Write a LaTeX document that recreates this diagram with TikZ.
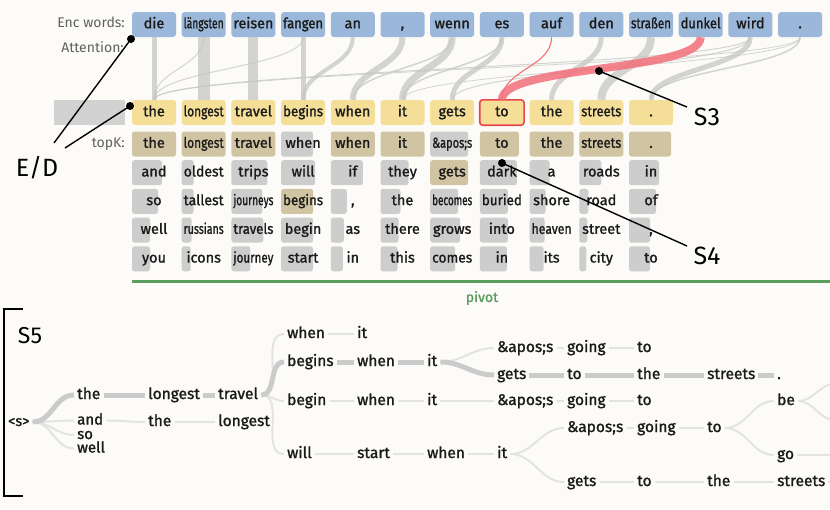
\documentclass[tikz,border=0pt]{standalone}
\usepackage{fontspec}
\setmainfont{Fira Sans}
\newfontfamily\semib{Fira Sans}[FakeBold=1.3]
\usepackage{graphicx}
\usetikzlibrary{calc}
\definecolor{bgc}{HTML}{FCFBF8}
\definecolor{encblue}{HTML}{9BB8DB}
\definecolor{decyel}{HTML}{F5DE98}
\definecolor{tanc}{HTML}{D0C4A2}
\definecolor{gr}{HTML}{CDCDCD}
\definecolor{attgray}{HTML}{C6C6C2}
\definecolor{redatt}{HTML}{F2707B}
\definecolor{redbox}{HTML}{E8454F}
\definecolor{pivotgreen}{HTML}{5A9E5E}
\definecolor{thkc}{HTML}{CBCBCB}
\definecolor{thnc}{HTML}{E3E3E3}
\definecolor{lblgray}{HTML}{606060}
\definecolor{txt}{HTML}{1A1A1A}
\newsavebox\wbox
\newcommand\fitw[1]{\sbox\wbox{#1}\ifdim\wd\wbox>40pt\relax\resizebox{40pt}{\height}{\usebox\wbox}\else\usebox\wbox\fi}
\newcommand\lnk[3]{\draw[#1] ([xshift=3pt,yshift=4pt]#2.base east) to[out=0,in=180] ([xshift=-3pt,yshift=4pt]#3.base west);}
\newcommand\att[3]{\draw[attline, line width=#3pt] (e#1.south) .. controls ([yshift=-30pt]e#1.south) and ([yshift=30pt]d#2.north) .. (d#2.north);}
\newcommand\tkcol[2]{\foreach \w/\b/\c [count=\r from 0] in {#2} {%
  \fill[\c, rounded corners=2.5pt] ({132+49.7*#1},{131.5+28.7*\r}) rectangle ++(\b,25);
  \node[tkt] (k#1-\r) at ({154+49.7*#1},{144+28.7*\r}) {\fitw{\w}};}}
\begin{document}
\begin{tikzpicture}[x=1pt,y=-1pt,
  every node/.style={inner sep=0pt, text=txt, font=\semib\fontsize{14.5}{17}\selectfont},
  cell/.style={minimum width=44pt, minimum height=25pt, rounded corners=3pt, text height=10.5pt, text depth=3pt},
  enc/.style={cell, fill=encblue},
  dec/.style={cell, fill=decyel},
  tkt/.style={text height=10.5pt, text depth=3pt},
  lbl/.style={anchor=east, text=lblgray, font=\rmfamily\fontsize{14}{16}\selectfont},
  attline/.style={draw=attgray, opacity=0.75},
  big/.style={font=\rmfamily\fontsize{25}{28}\selectfont, text=black},
  annot/.style={draw=black, line width=1.4pt},
  tw/.style={anchor=base west, font=\semib\fontsize{15.5}{18}\selectfont},
  thk/.style={draw=thkc, line width=5pt},
  thn/.style={draw=thnc, line width=2pt}
]
\fill[bgc] (0,0) rectangle (830,509);
\useasboundingbox (0,0) rectangle (830,509);
\clip (0,0) rectangle (830,509);

% labels
\node[lbl] (lenc) at (125,22) {Enc words:};
\node[lbl] (latt) at (124,47) {Attention:};
\node[lbl] (ltk) at (125,144) {topK:};

% encoder words
\foreach \w [count=\i from 0] in {die,längsten,reisen,fangen,an,{,},wenn,es,auf,den,straßen,dunkel,wird,.}
  {\node[enc] (e\i) at ({154+49.7*\i},24.5) {\fitw{\w}};}
% decoder words
\fill[gr!90] (54,100) rectangle (125,125);
\foreach \w [count=\i from 0] in {the,longest,travel,begins,when,it,gets,to,the,streets,.}
  {\node[dec] (d\i) at ({154+49.7*\i},112.5) {\fitw{\w}};}
\draw[redbox, line width=1.6pt, rounded corners=3pt] (d7.south west) rectangle (d7.north east);

% attention
\att{0}{0}{5}
\att{1}{1}{12}
\att{2}{2}{10}
\att{3}{3}{5}
\att{1}{0}{1}
\att{3}{0}{1}
\att{12}{0}{1}
\att{13}{0}{0.8}
\att{4}{3}{4}
\att{5}{4}{6}
\att{6}{4}{1.5}
\att{6}{5}{7}
\att{7}{5}{1.5}
\att{7}{6}{5}
\att{9}{8}{5}
\att{10}{9}{8}
\att{12}{10}{5}
\att{13}{10}{1.5}
\att{12}{6}{1}
\att{13}{5}{0.8}
\draw[redatt, line width=1.1pt] (e8.south) .. controls ([yshift=-30pt]e8.south) and ([yshift=30pt]d7.north) .. (d7.north);
\draw[redatt, opacity=0.85, line width=8pt] (e11.south) .. controls ([yshift=-35pt]e11.south) and ([yshift=35pt]d7.north) .. (d7.north);

% topK
\tkcol{0}{the/44/tanc, and/30/gr, so/26/gr, well/18/gr, you/18/gr}
\tkcol{1}{longest/44/tanc, oldest/12/gr, tallest/12/gr, russians/10/gr, icons/9/gr}
\tkcol{2}{travel/44/tanc, trips/36/gr, journeys/31/gr, travels/32/gr, journey/19/gr}
\tkcol{3}{when/32/gr, will/34/gr, begins/32/tanc, begin/32/gr, start/32/gr}
\tkcol{4}{when/44/tanc, if/32/gr, {,}/16/gr, as/13/gr, in/12/gr}
\tkcol{5}{it/44/tanc, they/28/gr, the/20/gr, there/18/gr, this/17/gr}
\tkcol{6}{\&apos;s/38/gr, gets/38/tanc, becomes/28/gr, grows/30/gr, comes/25/gr}
\tkcol{7}{to/39/tanc, dark/37/gr, buried/28/gr, into/28/gr, in/27/gr}
\tkcol{8}{the/44/tanc, a/20/gr, shore/16/gr, heaven/15/gr, its/14/gr}
\tkcol{9}{streets/44/tanc, roads/22/gr, road/9/gr, street/8/gr, city/7/gr}
\tkcol{10}{./42/tanc, in/30/gr, of/27/gr, {,}/21/gr, to/21/gr}

% pivot
\draw[pivotgreen, line width=3pt] (132,281) -- (830,281);
\node[text=pivotgreen, font=\semib\fontsize{14}{16}\selectfont] (pivot) at (482,298) {pivot};

% annotations
\coordinate (edA) at (131,39);
\coordinate (edB) at (130,106);
\coordinate (edAe) at (54,143);
\coordinate (edBe) at (65,148);
\node[big] (ED) at (37,168) {E/D};
\draw[annot] (edA) -- (edAe);
\draw[annot] (edB) -- (edBe);
\fill (edA) circle (4);
\fill (edB) circle (4);
\coordinate (s3d) at (599,71);
\coordinate (s3e) at (687,107);
\node[big] (S3) at (707,117) {S3};
\draw[annot] (s3d) -- (s3e);
\fill (s3d) circle (4);
\coordinate (s4d) at (502,163);
\coordinate (s4e) at (687,246);
\node[big] (S4) at (707,256) {S4};
\draw[annot] (s4d) -- (s4e);
\fill (s4d) circle (4);
\node[big, font=\rmfamily\fontsize{23}{26}\selectfont] (S5) at (30,336) {S5};
\draw[line width=1.8pt] (23,309) -- (4,309) -- (4,496) -- (23,496);

% tree nodes
\node[tw, font=\semib\fontsize{14.5}{16}\selectfont] (s0) at (8,426) {<s>};
\node[tw] (a1) at (77,399) {the};
\node[tw] (a2) at (148,399) {longest};
\node[tw] (a3) at (218,399) {travel};
\node[tw, font=\semib\fontsize{15}{16}\selectfont] (b1) at (77,424.5) {and};
\node[tw] (b2) at (148,426) {the};
\node[tw] (b3) at (218,426) {longest};
\node[tw, font=\semib\fontsize{15}{16}\selectfont] (c1) at (77,439) {so};
\node[tw, font=\semib\fontsize{15}{16}\selectfont] (c2) at (77,452.5) {well};
\node[tw] (w4a) at (287,338) {when};
\node[tw] (w4b) at (287,366) {begins};
\node[tw] (w4c) at (287,405) {begin};
\node[tw] (w4d) at (287,458) {will};
\node[tw] (w5a) at (357,338) {it};
\node[tw] (w5b) at (357,366) {when};
\node[tw] (w5c) at (357,405) {when};
\node[tw] (w5d) at (357,458) {start};
\node[tw] (w6b) at (427,366) {it};
\node[tw] (w6c) at (427,405) {it};
\node[tw] (w6d) at (427,458) {when};
\node[tw] (w7b1) at (497,352) {\&apos;s};
\node[tw] (w7b2) at (497,379) {gets};
\node[tw] (w7c) at (497,405) {\&apos;s};
\node[tw] (w7d) at (497,458) {it};
\node[tw] (w8b1) at (567,352) {going};
\node[tw] (w8b2) at (567,379) {to};
\node[tw] (w8c) at (567,405) {going};
\node[tw] (w8d1) at (567,432) {\&apos;s};
\node[tw] (w8d2) at (567,486) {gets};
\node[tw] (w9b1) at (637,352) {to};
\node[tw] (w9b2) at (637,379) {the};
\node[tw] (w9c) at (637,405) {to};
\node[tw] (w9d1) at (637,432) {going};
\node[tw] (w9d2) at (637,486) {to};
\node[tw] (w10b2) at (707,379) {streets};
\node[tw] (w10d1) at (707,432) {to};
\node[tw] (w10d2) at (707,486) {the};
\node[tw] (w11b2) at (777,379) {.};
\node[tw] (w11a) at (777,405) {be};
\node[tw] (w11b) at (777,459) {go};
\node[tw] (w11c) at (777,486) {streets};
\coordinate (off1) at (835,384);
\coordinate (off2) at (835,420);
\coordinate (off3) at (835,455);
\coordinate (off4) at (835,482);

% tree links
\lnk{thn}{s0}{b1}
\lnk{thn}{s0}{c1}
\lnk{thn}{s0}{c2}
\lnk{thn}{b1}{b2}
\lnk{thn}{b2}{b3}
\lnk{thn}{a3}{w4a}
\lnk{thn}{a3}{w4c}
\lnk{thn}{a3}{w4d}
\lnk{thn}{w4a}{w5a}
\lnk{thn}{w4c}{w5c}
\lnk{thn}{w5c}{w6c}
\lnk{thn}{w6c}{w7c}
\lnk{thn}{w7c}{w8c}
\lnk{thn}{w8c}{w9c}
\lnk{thn}{w4d}{w5d}
\lnk{thn}{w5d}{w6d}
\lnk{thn}{w6d}{w7d}
\lnk{thn}{w7d}{w8d1}
\lnk{thn}{w7d}{w8d2}
\lnk{thn}{w8d1}{w9d1}
\lnk{thn}{w9d1}{w10d1}
\lnk{thn}{w10d1}{w11a}
\lnk{thn}{w10d1}{w11b}
\lnk{thn}{w8d2}{w9d2}
\lnk{thn}{w9d2}{w10d2}
\lnk{thn}{w10d2}{w11c}
\lnk{thn}{w6b}{w7b1}
\lnk{thn}{w7b1}{w8b1}
\lnk{thn}{w8b1}{w9b1}
\draw[thn] ([xshift=3pt,yshift=4pt]w11a.base east) to[out=0,in=180] (off1);
\draw[thn] ([xshift=3pt,yshift=4pt]w11a.base east) to[out=0,in=180] (off2);
\draw[thn] ([xshift=3pt,yshift=4pt]w11b.base east) -- (off3);
\draw[thn] ([xshift=3pt,yshift=4pt]w11c.base east) -- (off4);
\lnk{thk}{s0}{a1}
\lnk{thk}{a1}{a2}
\lnk{thk}{a2}{a3}
\lnk{thk}{a3}{w4b}
\lnk{thk}{w4b}{w5b}
\lnk{thk}{w5b}{w6b}
\lnk{thk}{w6b}{w7b2}
\lnk{thk}{w7b2}{w8b2}
\lnk{thk}{w8b2}{w9b2}
\lnk{thk}{w9b2}{w10b2}
\lnk{thk}{w10b2}{w11b2}
\end{tikzpicture}
\end{document}
